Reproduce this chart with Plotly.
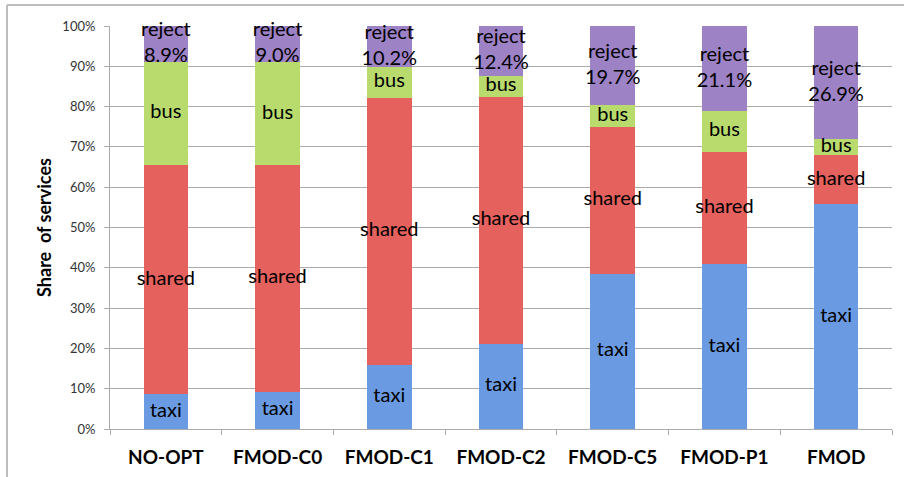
import plotly.graph_objects as go

categories = ["NO-OPT", "FMOD-C0", "FMOD-C1", "FMOD-C2", "FMOD-C5", "FMOD-P1", "FMOD"]
taxi = [8.6, 9.3, 15.9, 21.1, 38.5, 40.9, 55.8]
shared = [56.9, 56.2, 66.3, 61.4, 36.5, 27.9, 12.2]
bus = [25.6, 25.5, 7.6, 5.1, 5.3, 10.1, 3.9]
reject = [8.9, 9.0, 10.2, 12.4, 19.7, 21.1, 28.1]
reject_labels = ["8.9%", "9.0%", "10.2%", "12.4%", "19.7%", "21.1%", "26.9%"]
y_ticks = [0, 10, 20, 30, 40, 50, 60, 70, 80, 90, 100]

series = [
    ("taxi", taxi, "#6A9BE2"),
    ("shared", shared, "#E4615D"),
    ("bus", bus, "#B9DB6E"),
    ("reject", reject, "#9E82C6"),
]

fig = go.Figure()
base = [0.0] * len(categories)
label_font = dict(family="Lato", size=20, color="#000000")
for name, vals, color in series:
    fig.add_trace(go.Bar(
        x=categories, y=vals, name=name, width=0.4,
        marker=dict(color=color, line=dict(width=0)),
        hoverinfo="skip",
    ))
    mids = [b + v / 2 for b, v in zip(base, vals)]
    if name == "reject":
        texts = [f"reject<br>{t}" for t in reject_labels]
    else:
        texts = [name] * len(categories)
    fig.add_trace(go.Scatter(
        x=categories, y=mids, mode="text", text=texts,
        textposition="middle center", textfont=label_font,
        hoverinfo="skip", showlegend=False, cliponaxis=False,
    ))
    base = [b + v for b, v in zip(base, vals)]

fig.update_layout(
    barmode="stack",
    width=904, height=477,
    margin=dict(l=110, r=12, t=26, b=48),
    paper_bgcolor="white", plot_bgcolor="white",
    showlegend=False,
    font=dict(family="Lato", color="#333333"),
)
fig.update_yaxes(
    range=[0, 100], tickvals=y_ticks, ticktext=[f"{v}%" for v in y_ticks],
    showgrid=True, gridcolor="#ABABAB", gridwidth=1,
    showline=True, linecolor="#ABABAB", linewidth=1,
    ticks="outside", ticklen=5, tickcolor="#ABABAB",
    ticklabelstandoff=6, automargin=False,
    tickfont=dict(family="Lato", size=13, color="#333333"),
    title=dict(text="Share  of services", font=dict(family="Lato", size=18, color="#000000", weight="bold"), standoff=6),
    zeroline=False,
)
fig.update_xaxes(
    showline=True, linecolor="#ABABAB", linewidth=1,
    ticks="outside", ticklen=5, tickcolor="#ABABAB", tickson="boundaries",
    ticklabelstandoff=11, automargin=False,
    tickfont=dict(family="Lato", size=19, color="#000000", weight="bold"),
    showgrid=False,
)
frame = dict(color="#BDBDBD", width=2)
fig.add_shape(type="line", xref="paper", yref="paper",
              x0=-0.1317, x1=1.05, y0=1.052, y1=1.052, line=frame)
fig.add_shape(type="line", xref="paper", yref="paper",
              x0=-0.1317, x1=-0.1317, y0=-0.2, y1=1.052, line=frame)

fig.write_html("out.html", config={"displayModeBar": False},
               post_script="document.body.style.margin='0px';document.body.style.overflow='hidden';")
